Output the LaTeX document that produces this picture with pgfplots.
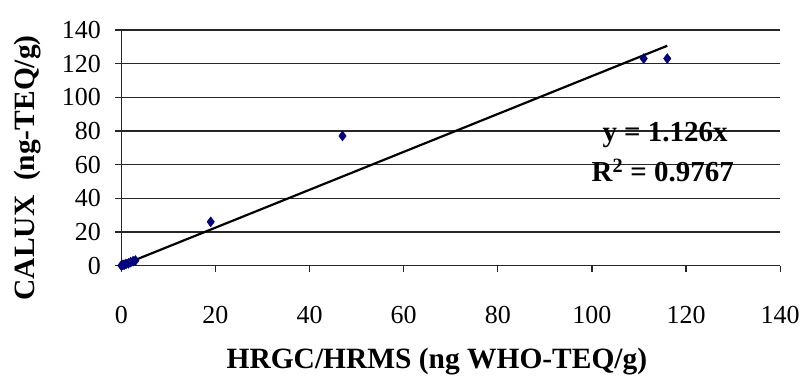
\documentclass[border=0pt]{standalone}
\usepackage{pgfplots}
\pgfplotsset{compat=1.18}
\usepackage{fontspec}
\setmainfont{Liberation Serif}
\begin{document}
\begin{tikzpicture}[x=1pt,y=1pt]
\path (-121.5,-110) rectangle (681.5,266);
\begin{axis}[
  at={(0,0)}, anchor=south west,
  scale only axis,
  width=660pt, height=236pt,
  xmin=0, xmax=140, ymin=0, ymax=140,
  xtick={0,20,...,140}, ytick={0,20,...,140},
  axis lines*=left,
  axis line style={line width=1.3pt, black!85},
  ymajorgrids,
  grid style={black!85, line width=1.3pt},
  tick style={black!85, line width=1.3pt},
  tick align=outside,
  major tick length=6pt,
  every tick label/.append style={font=\fontsize{26}{30}\selectfont},
  /pgf/number format/assume math mode=true,
  xticklabel style={anchor=base, yshift=-52.5pt},
  yticklabel style={anchor=east, xshift=-11pt},
  xlabel={\textbf{HRGC/HRMS (ng WHO-TEQ/g)}},
  ylabel={\textbf{CALUX\ \ (ng-TEQ/g)}},
  label style={font=\fontsize{29.5}{34}\selectfont},
  xlabel style={at={(axis description cs:0.479,-0.436)}, anchor=base},
  ylabel style={at={(axis description cs:-0.143,0.415)}, anchor=center},
  clip=false,
]
\addplot[only marks, mark=diamond*, mark size=5pt, color={rgb,255:red,0;green,0;blue,128}]
coordinates {(0,0) (0.3,0.4) (0.6,0.5) (1,1) (1.5,1.3) (2,2) (2.5,2.6) (3,3) (19,26) (47,77) (111,123) (116,123)};
\addplot[black, line width=2.2pt] coordinates {(0,0) (116,130.6)};
\node[anchor=base west, inner sep=0pt, font=\fontsize{29}{33}\selectfont\bfseries] at (axis cs:102.2,73.5) {y = 1.126x};
\node[anchor=base west, inner sep=0pt, font=\fontsize{29}{33}\selectfont\bfseries] at (axis cs:99.9,49.8) {R\textsuperscript{2} = 0.9767};
\end{axis}
\end{tikzpicture}
\end{document}
